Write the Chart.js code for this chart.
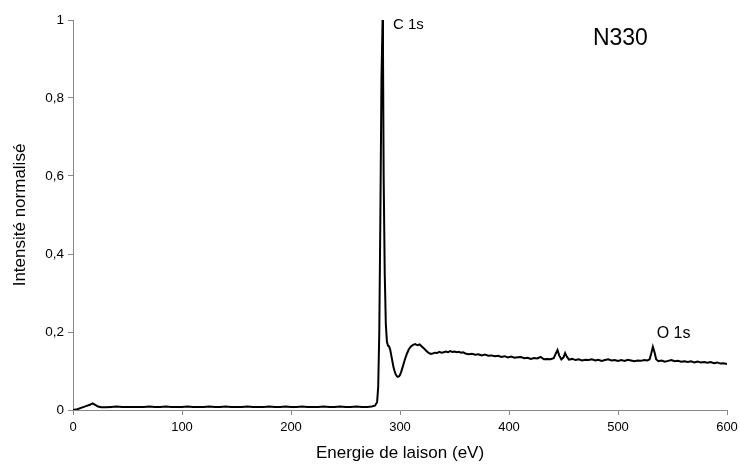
<!DOCTYPE html>
<html>
<head>
<meta charset="utf-8">
<script src="https://cdn.jsdelivr.net/npm/chart.js@4/dist/chart.umd.min.js"></script>
<style>
  html, body { margin: 0; padding: 0; background: #fff; }
  #wrap { width: 740px; height: 465px; }
</style>
</head>
<body>
<div id="wrap"><canvas id="c" width="740" height="465"></canvas></div>
<script>
// Binding energy (eV) of the XPS survey spectrum
const energy = [
  0, 4, 8, 12, 16, 18, 20, 23, 26, 30, 35, 40, 45, 50, 55, 60, 65, 70, 75, 80,
  85, 90, 95, 100, 105, 110, 115, 120, 125, 130, 135, 140, 145, 150, 155, 160, 165, 170, 175, 180,
  185, 190, 195, 200, 205, 210, 215, 220, 225, 230, 235, 240, 245, 250, 255, 260, 265, 270, 274, 277,
  279, 280, 281, 282, 283, 284, 284.4, 285, 286, 287, 288, 289, 290, 291, 292, 293, 294, 295, 296, 297,
  298, 299, 300, 301, 302, 304, 306, 308, 310, 312, 314, 316, 318, 320, 322, 324, 326, 328, 330, 332,
  334, 336, 338, 340, 342, 344, 346, 348, 350, 352, 354, 356, 358, 360, 363, 366, 369, 372, 375, 378,
  381, 384, 387, 390, 393, 396, 399, 402, 405, 408, 411, 414, 417, 420, 423, 426, 429, 432, 435, 438,
  441, 443, 444.5, 446, 448, 450, 451.5, 453, 455, 458, 461, 464, 467, 470, 473, 476, 479, 482, 485, 488,
  491, 494, 497, 500, 503, 506, 509, 512, 515, 518, 521, 524, 527, 529, 530.5, 532, 533.5, 535, 537, 540,
  543, 546, 549, 552, 555, 558, 561, 564, 567, 570, 573, 576, 579, 582, 585, 588, 591, 594, 597, 600
];

// Normalised intensity at each energy
const intensity = [
  0.000, 0.002, 0.006, 0.010, 0.014, 0.017, 0.014, 0.009, 0.007, 0.007, 0.008, 0.009, 0.008, 0.008, 0.008, 0.008, 0.008, 0.009, 0.008, 0.008,
  0.009, 0.008, 0.008, 0.008, 0.009, 0.008, 0.008, 0.008, 0.009, 0.008, 0.008, 0.009, 0.008, 0.008, 0.008, 0.009, 0.008, 0.008, 0.008, 0.009,
  0.008, 0.008, 0.009, 0.008, 0.008, 0.009, 0.008, 0.008, 0.008, 0.009, 0.008, 0.008, 0.009, 0.008, 0.008, 0.009, 0.008, 0.008, 0.009, 0.011,
  0.020, 0.060, 0.200, 0.500, 0.850, 1.000, 0.920, 0.600, 0.350, 0.220, 0.175, 0.165, 0.163, 0.155, 0.140, 0.125, 0.110, 0.100, 0.092, 0.087,
  0.085, 0.086, 0.090, 0.097, 0.106, 0.125, 0.142, 0.155, 0.163, 0.167, 0.169, 0.166, 0.168, 0.163, 0.158, 0.152, 0.147, 0.144, 0.145, 0.147,
  0.146, 0.149, 0.147, 0.148, 0.150, 0.148, 0.151, 0.149, 0.150, 0.148, 0.149, 0.147, 0.148, 0.145, 0.143, 0.144, 0.142, 0.143, 0.140, 0.142,
  0.139, 0.140, 0.138, 0.139, 0.136, 0.138, 0.135, 0.137, 0.134, 0.135, 0.136, 0.133, 0.134, 0.131, 0.133, 0.132, 0.136, 0.130, 0.131, 0.130,
  0.133, 0.145, 0.154, 0.140, 0.130, 0.135, 0.146, 0.137, 0.129, 0.131, 0.128, 0.130, 0.127, 0.129, 0.128, 0.130, 0.127, 0.129, 0.126, 0.128,
  0.130, 0.127, 0.128, 0.126, 0.128, 0.126, 0.129, 0.127, 0.125, 0.127, 0.126, 0.128, 0.127, 0.130, 0.145, 0.162, 0.148, 0.130, 0.125, 0.127,
  0.124, 0.126, 0.128, 0.125, 0.126, 0.124, 0.125, 0.123, 0.125, 0.122, 0.124, 0.122, 0.123, 0.121, 0.123, 0.120, 0.122, 0.119, 0.120, 0.118
];

const xTickLabels = ['0', '100', '200', '300', '400', '500', '600'];
const yTickLabels = ['0', '0,2', '0,4', '0,6', '0,8', '1'];

// Peak labels and sample name, anchored in data coordinates
const notes = [
  { text: 'C 1s', x: 293.5, y: 0.988, size: 15 },
  { text: 'O 1s', x: 535.5, y: 0.197, size: 16 },
  { text: 'N330', x: 477.0, y: 0.951, size: 23 }
];

const points = energy.map((e, i) => ({ x: e, y: intensity[i] }));

const notesPlugin = {
  id: 'notes',
  afterDatasetsDraw(chart) {
    const { ctx, scales } = chart;
    ctx.save();
    ctx.fillStyle = '#000';
    ctx.textAlign = 'left';
    ctx.textBaseline = 'middle';
    notes.forEach(n => {
      ctx.font = n.size + 'px "Liberation Sans", Arial, sans-serif';
      ctx.fillText(n.text, scales.x.getPixelForValue(n.x), scales.y.getPixelForValue(n.y));
    });
    ctx.restore();
  }
};

const FONT = '"Liberation Sans", Arial, sans-serif';

new Chart(document.getElementById('c'), {
  type: 'scatter',
  data: {
    datasets: [{
      data: points,
      showLine: true,
      borderColor: '#000',
      borderWidth: 2,
      pointRadius: 0,
      tension: 0
    }]
  },
  options: {
    responsive: false,
    animation: false,
    layout: { padding: { left: 0, right: 13, top: 20, bottom: 0 } },
    plugins: { legend: { display: false }, tooltip: { enabled: false } },
    scales: {
      x: {
        type: 'linear',
        min: 0, max: 600,
        afterFit(s) { s.height = 55; s.paddingLeft = 0; s.paddingRight = 0; },
        afterBuildTicks(s) { s.ticks = xTickLabels.map(t => ({ value: Number(t) })); },
        ticks: {
          callback: (v, i) => xTickLabels[i],
          color: '#000',
          font: { family: FONT, size: 13 },
          padding: 5,
          maxRotation: 0
        },
        grid: { drawOnChartArea: false, drawTicks: true, tickLength: 5, color: '#888' },
        border: { color: '#888', width: 1 },
        title: {
          display: true,
          text: 'Energie de laison (eV)',
          color: '#000',
          font: { family: FONT, size: 17 },
          padding: { top: 0, bottom: 1 }
        }
      },
      y: {
        type: 'linear',
        min: 0, max: 1,
        afterFit(s) { s.width = 73; },
        afterBuildTicks(s) { s.ticks = yTickLabels.map((t, i) => ({ value: i * 0.2 })); },
        ticks: {
          callback: (v, i) => yTickLabels[i],
          color: '#000',
          font: { family: FONT, size: 13.5 },
          padding: 4
        },
        grid: { drawOnChartArea: false, drawTicks: true, tickLength: 5, color: '#888' },
        border: { color: '#888', width: 1 },
        title: {
          display: true,
          text: 'Intensité normalisé',
          color: '#000',
          font: { family: FONT, size: 17 },
          padding: { top: 10, bottom: 0 }
        }
      }
    }
  },
  plugins: [notesPlugin]
});
</script>
</body>
</html>
